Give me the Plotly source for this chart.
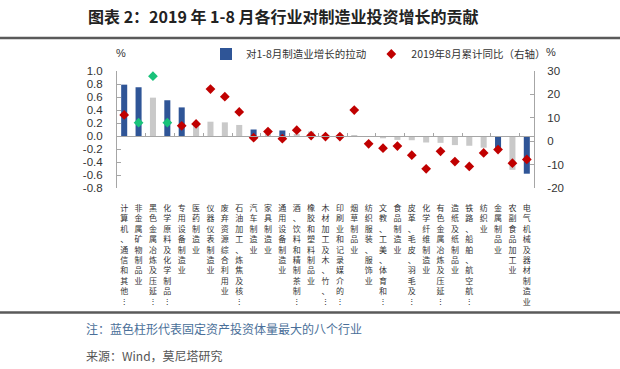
import plotly.graph_objects as go

# ---------------- data ----------------
industries = [
    "计算机、通信和其他…", "非金属矿物制品业", "黑色金属冶炼及压延…", "化学原料及化学制品…",
    "专用设备制造业", "医药制造业", "仪器仪表制造业", "废弃资源综合利用业",
    "石油加工、炼焦及核…", "汽车制造业", "家具制造业", "通用设备制造业",
    "酒、饮料和精制茶制…", "橡胶和塑料制品业", "木材加工及木、竹、…", "印刷业和记录媒介的…",
    "烟草制品业", "纺织服装、服饰业", "文教、工美、体育和…", "食品制造业",
    "皮革、毛皮、羽毛及…", "化学纤维制造业", "有色金属冶炼及压延…", "造纸及纸制品业",
    "铁路、船舶、航空航…", "纺织业", "金属制品业", "农副食品加工业",
    "电气机械及器材制造业",
]
# contribution to Jan-Aug manufacturing investment growth (left axis, %)
contribution = [
    0.79, 0.75, 0.59, 0.55, 0.44, 0.17, 0.22, 0.21, 0.17, 0.10,
    0.03, 0.085, 0.03, 0.07, 0.01, 0.01, 0.005, -0.01, -0.035, -0.06,
    -0.065, -0.10, -0.105, -0.14, -0.15, -0.18, -0.20, -0.52, -0.58,
]
# Aug 2019 cumulative YoY (right axis, %)
yoy_aug = [
    11.2, 7.9, 27.8, 7.9, 6.6, 7.4, 22.3, 19.0, 12.5, 1.5,
    4.1, 1.1, 4.7, 2.4, 2.0, 2.0, 13.3, -1.1, -3.0, -2.1,
    -6.0, -11.8, -4.3, -8.7, -10.8, -5.0, -3.6, -9.4, -7.8,
]
# eight largest industries by fixed-asset investment (blue bars)
top8_industries = [
    "计算机、通信和其他…", "非金属矿物制品业", "化学原料及化学制品…", "专用设备制造业",
    "汽车制造业", "通用设备制造业", "金属制品业", "电气机械及器材制造业",
]
green_marker_industries = ["非金属矿物制品业", "黑色金属冶炼及压延…", "化学原料及化学制品…"]

left_ticks = [-0.8, -0.6, -0.4, -0.2, 0.0, 0.2, 0.4, 0.6, 0.8, 1.0]
left_tick_text = ["-0.8", "-0.6", "-0.4", "-0.2", "0.0", "0.2", "0.4", "0.6", "0.8", "1.0"]
right_ticks = [-20, -10, 0, 10, 20, 30]
right_tick_text = ["-20", "-10", "0", "10", "20", "30"]

bar_name = "对1-8月制造业增长的拉动"
dot_name = "2019年8月累计同比（右轴）"
title_text = "图表 2：2019 年 1-8 月各行业对制造业投资增长的贡献"
note_text = "注：蓝色柱形代表固定资产投资体量最大的八个行业"
source_text = "来源：Wind，莫尼塔研究"

# ---------------- styling ----------------
BLUE = "#2F5597"
GRAY = "#C9C9C9"
RED = "#C00000"
GREEN = "#19C27A"
AXIS = "#A6A6A6"
TXT = "#333333"
FONT = "Noto Sans CJK SC"
NUMFONT = "Liberation Sans, Arial, sans-serif"


def vertical(label):
    return "<br>".join("︙" if ch == "…" else ch for ch in label)


tick_text = [vertical(s) for s in industries]
bar_colors = [BLUE if s in top8_industries else GRAY for s in industries]
dot_colors = [GREEN if s in green_marker_industries else RED for s in industries]

fig = go.Figure()
fig.add_trace(go.Bar(
    x=industries, y=contribution, name=bar_name,
    marker=dict(color=bar_colors, line=dict(width=0)),
    xaxis="x", yaxis="y",
))
fig.add_trace(go.Scatter(
    x=industries, y=yoy_aug, name=dot_name, mode="markers",
    marker=dict(symbol="diamond", size=7.5, color=dot_colors),
    xaxis="x2", yaxis="y2",
))

# plot-area geometry (px) for paper-coordinate helpers
L, R, T, B = 117, 534, 71, 188
W, H = R - L, B - T


def px(xp):
    return (xp - L) / W


def py(yp):
    return (B - yp) / H


fig.update_layout(
    width=620, height=369,
    margin=dict(l=L, r=620 - R, t=T, b=369 - B, pad=0, autoexpand=False),
    paper_bgcolor="white", plot_bgcolor="white",
    font=dict(family=FONT, color=TXT),
    bargap=0.58,
    showlegend=True,
    legend=dict(
        orientation="h", x=px(206), xanchor="left", y=py(54), yanchor="middle",
        font=dict(size=10.5, color=TXT), bgcolor="rgba(0,0,0,0)",
        itemwidth=30, tracegroupgap=0,
    ),
    xaxis=dict(
        type="category", categoryorder="array", categoryarray=industries,
        range=[-0.5, len(industries) - 0.5],
        tickmode="array", tickvals=industries, ticktext=tick_text,
        tickfont=dict(size=8, color=TXT, family=FONT), tickangle=0,
        showline=False, showgrid=False, zeroline=False, ticks="",
        ticklabelstandoff=14, automargin=False,
    ),
    xaxis2=dict(
        type="category", categoryorder="array", categoryarray=industries,
        range=[-0.5, len(industries) - 0.5],
        overlaying="x", anchor="free", position=0.8 / 1.8,
        showticklabels=False, showgrid=False, zeroline=False,
        showline=True, linecolor=AXIS, linewidth=1,
        ticks="inside", tickson="boundaries", ticklen=3, tickcolor=AXIS,
    ),
    yaxis=dict(
        range=[-0.8, 1.0], tickmode="array", tickvals=left_ticks, ticktext=left_tick_text,
        showline=True, linecolor=AXIS, linewidth=1, ticks="inside", ticklen=4, tickcolor=AXIS,
        showgrid=False, zeroline=False, tickfont=dict(size=11.5, color=TXT, family=NUMFONT),
        ticklabelstandoff=11, automargin=False,
    ),
    yaxis2=dict(
        range=[-20, 30], tickmode="array", tickvals=right_ticks, ticktext=right_tick_text,
        overlaying="y", side="right", anchor="x",
        showline=True, linecolor=AXIS, linewidth=1, ticks="inside", ticklen=4, tickcolor=AXIS,
        showgrid=False, zeroline=False, tickfont=dict(size=11.5, color=TXT, family=NUMFONT),
        ticklabelstandoff=10, automargin=False,
    ),
    annotations=[
        dict(text=f"<b>{title_text}</b>", xref="paper", yref="paper",
             x=px(283.5), y=py(16), xanchor="center", yanchor="middle",
             showarrow=False, font=dict(size=16, color="#222222", family=FONT)),
        dict(text="%", xref="paper", yref="paper", x=px(121), y=py(53),
             xanchor="center", yanchor="middle", showarrow=False,
             font=dict(size=11, color=TXT, family=NUMFONT)),
        dict(text="%", xref="paper", yref="paper", x=px(551), y=py(52),
             xanchor="center", yanchor="middle", showarrow=False,
             font=dict(size=11, color=TXT, family=NUMFONT)),
        dict(text=note_text, xref="paper", yref="paper", x=px(84), y=py(328),
             xanchor="left", yanchor="middle", showarrow=False,
             font=dict(size=12, color="#4A6F99")),
        dict(text=source_text, xref="paper", yref="paper", x=px(84), y=py(355),
             xanchor="left", yanchor="middle", showarrow=False,
             font=dict(size=12, color="#555555")),
    ],
    shapes=[
        dict(type="line", xref="paper", yref="paper", x0=px(0), x1=px(620),
             y0=py(38), y1=py(38), line=dict(color="#5A5A5A", width=2.5)),
        dict(type="line", xref="paper", yref="paper", x0=px(0), x1=px(620),
             y0=py(312.5), y1=py(312.5), line=dict(color="#5A5A5A", width=2.5)),
    ],
)

fig.write_html(
    "out.html",
    config={"displayModeBar": False},
    post_script="document.body.style.margin='0';document.body.style.overflow='hidden';",
)
